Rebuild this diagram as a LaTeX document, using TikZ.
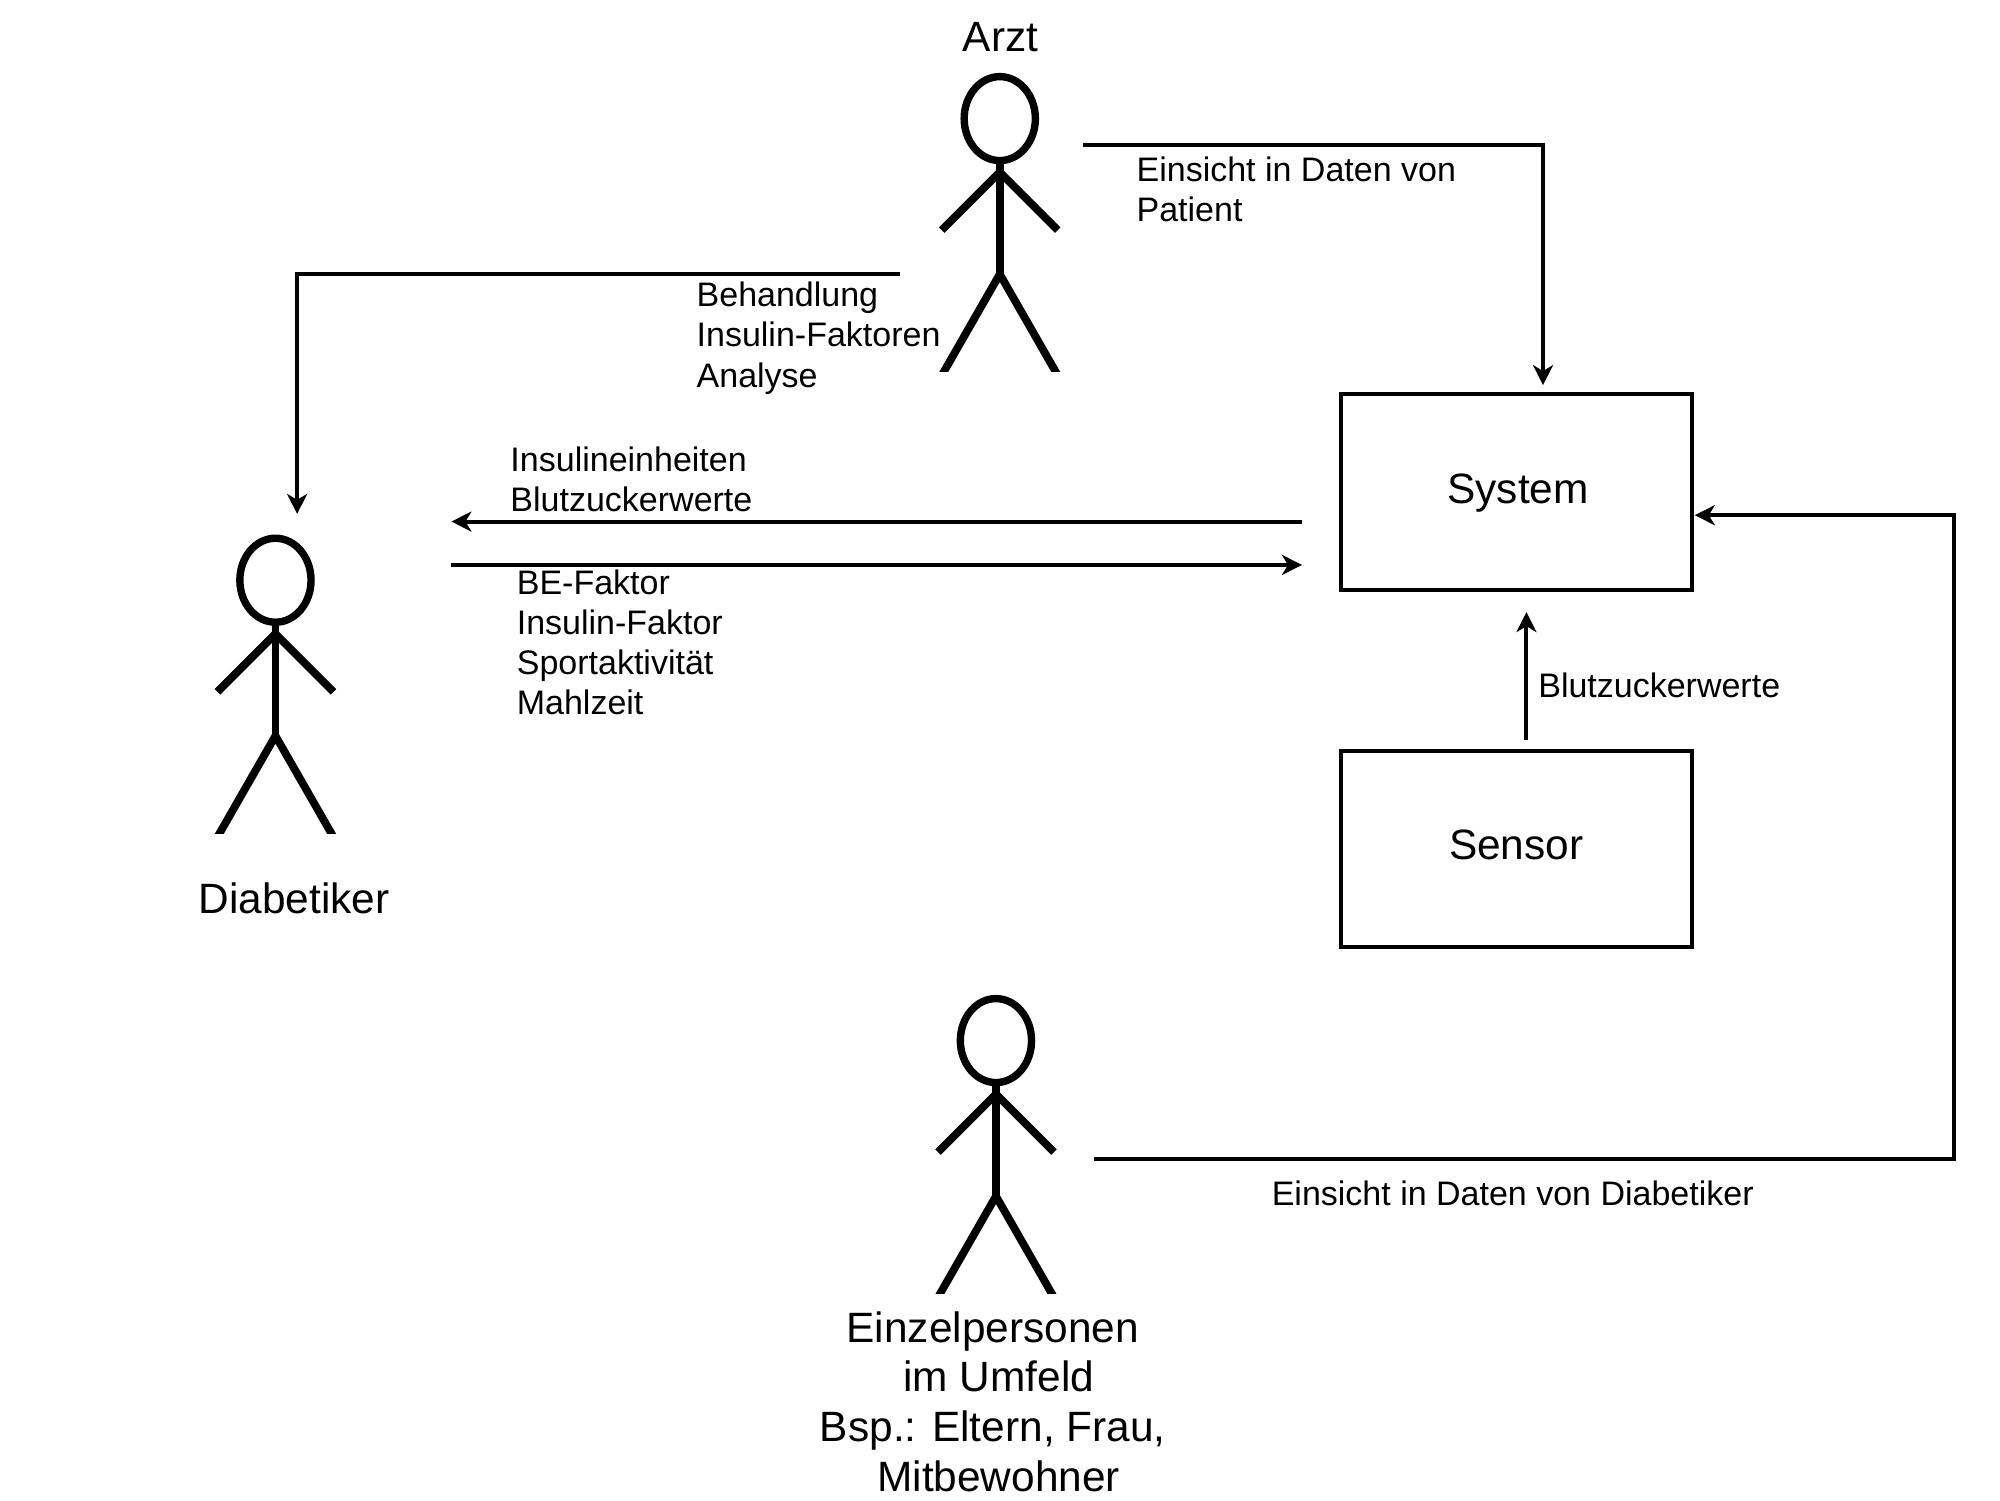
\documentclass[tikz,border=0pt]{standalone}
\usepackage{fontspec}
\setmainfont{Liberation Sans}
\usetikzlibrary{arrows.meta,shapes.geometric}
\tikzset{
  x=0.6376pt,y=-0.6376pt,
  limb/.style={line width=3.9pt,black},
  headshape/.style={draw,ellipse,line width=3.7pt,minimum width=35.6pt,minimum height=42pt,inner sep=0pt},
  boxnode/.style={draw,line width=2pt,minimum width=175.7pt,minimum height=97.9pt,inner sep=0pt},
  conn/.style={line width=2pt,-{Stealth[length=10pt,width=10pt,inset=3pt]}},
  small/.style={anchor=north west,inner sep=0pt,align=left,font=\fontsize{17pt}{20.05pt}\selectfont},
  big/.style={anchor=base,inner sep=0pt,font=\fontsize{21.2pt}{25pt}\selectfont},
}
\newcommand{\stickman}[3]{%
  \node[headshape] (#1) at (#2,#3) {};
  \begin{scope}
    \clip (#2-60,#3-40) rectangle (#2+60,#3+198.5);
    \draw[limb] (#1.south) -- (#2,#3+122);
    \draw[limb] (#2-45.5,#3+87.5) -- (#2,#3+42) -- (#2+45.5,#3+87.5);
    \draw[limb] (#2-47,#3+204) -- (#2,#3+122) -- (#2+47,#3+204);
  \end{scope}}
\begin{document}
\begin{tikzpicture}
\useasboundingbox (0pt,0pt) rectangle (1000pt,-750pt);
\stickman{arzt}{784}{93}
\stickman{diabetiker}{216}{455}
\stickman{einzel}{781}{816}
\node[boxnode] (system) at (1189,386) {};
\node[boxnode] (sensor) at (1189,666) {};
\node[big] (systemtext) at (1190.5,395) {System};
\node[big] (sensortext) at (1189,674) {Sensor};
\node[big] (arzttext) at (784.5,40) {Arzt};
\node[big] (diabtext) at (230.5,716) {Diabetiker};
\node[anchor=north,inner sep=0pt,align=center,font=\fontsize{21.2pt}{24.9pt}\selectfont] (einzeltext) at (778.5,1028)
  {Einzelpersonen\\\hspace*{0.278em}im Umfeld\\Bsp.: Eltern, Frau,\\\hspace*{0.278em}Mitbewohner};
\node[small] (l1) at (891,123) {Einsicht in Daten von\\Patient};
\node[small] (l2) at (546,221) {Behandlung\\Insulin-Faktoren\\Analyse};
\node[small] (l3) at (400,350.3) {Insulineinheiten\\Blutzuckerwerte};
\node[small] (l4) at (405,446.5) {BE-Faktor\\Insulin-Faktor\\Sportaktivität\\Mahlzeit};
\node[small] (l5) at (1206,527.3) {Blutzuckerwerte};
\node[small] (l6) at (997,925.3) {Einsicht in Daten von Diabetiker};
\coordinate (a1) at (849,113.5);
\coordinate (a2) at (1210,113.5);
\coordinate (a3) at (1210,302);
\draw[conn] (a1) -- (a2) -- (a3);
\coordinate (b1) at (706,214.5);
\coordinate (b2) at (233,214.5);
\coordinate (b3) at (233,403);
\draw[conn] (b1) -- (b2) -- (b3);
\coordinate (c1) at (1021,409);
\coordinate (c2) at (354,409);
\draw[conn] (c1) -- (c2);
\coordinate (d1) at (354,443);
\coordinate (d2) at (1021,443);
\draw[conn] (d1) -- (d2);
\coordinate (e1) at (1197,580);
\coordinate (e2) at (1197,480);
\draw[conn] (e1) -- (e2);
\coordinate (f1) at (858,909);
\coordinate (f2) at (1532,909);
\coordinate (f3) at (1532,404);
\coordinate (f4) at (1329,404);
\draw[conn] (f1) -- (f2) -- (f3) -- (f4);
\end{tikzpicture}
\end{document}
